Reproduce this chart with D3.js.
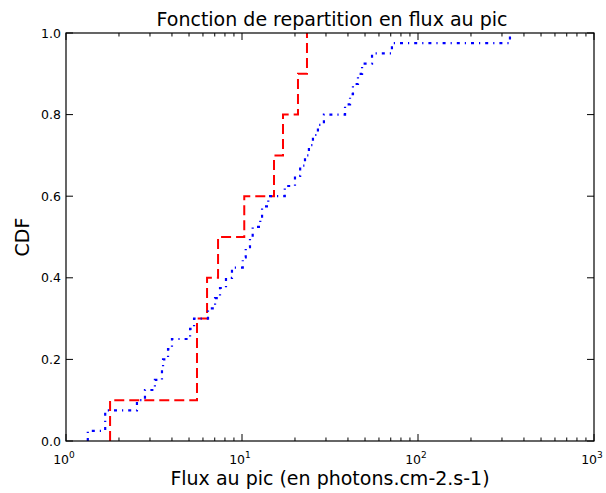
<!DOCTYPE html>
<html><head><meta charset="utf-8">
<script src="https://cdn.jsdelivr.net/npm/d3@7"></script>
<style>body{margin:0;background:#fff;} svg{display:block;font-family:"DejaVu Sans",sans-serif;}</style>
</head><body><svg id="c" width="606" height="493"></svg>
<script>
// Data (sorted peak fluxes, photons.cm-2.s-1)
const redFlux = [1.78, 5.55, 5.55, 6.33, 7.31, 10.3, 15.2, 17.1, 20.8, 23.4];
const blueFlux = [1.33, 1.67, 1.67, 2.53, 2.81, 3.20, 3.51, 3.56, 3.80, 4.00,
  5.07, 5.34, 6.41, 7.03, 7.50, 8.11, 8.77, 10.1, 10.5, 11.1,
  11.5, 12.7, 13.0, 14.1, 17.5, 20.0, 21.4, 22.8, 24.0, 25.3,
  27.0, 29.2, 38.5, 41.1, 42.7, 45.6, 48.1, 54.8, 71.1, 333];
const yTicks = [0.0, 0.2, 0.4, 0.6, 0.8, 1.0];
const xExponents = [0, 1, 2, 3];
const titleText = "Fonction de repartition en flux au pic";
const xLabelText = "Flux au pic (en photons.cm-2.s-1)";
const yLabelText = "CDF";

const L = 66, R = 594, T = 33, B = 441;
const svg = d3.select("#c");
const x = d3.scaleLog().domain([1, 1000]).range([L, R]);
const y = d3.scaleLinear().domain([0, 1]).range([B, T]);

function cdfPoints(arr) {
  const n = arr.length;
  const pts = [[arr[0], 0]];
  arr.forEach((v, i) => pts.push([v, (i + 1) / n]));
  return pts;
}
const line = d3.line().x(d => x(d[0])).y(d => y(d[1])).curve(d3.curveStepAfter);

const g = svg.append("g");
g.append("path").attr("d", line(cdfPoints(redFlux)))
  .attr("fill", "none").attr("stroke", "#ff0000").attr("stroke-width", 2)
  .attr("stroke-dasharray", "10,5");
g.append("path").attr("d", line(cdfPoints(blueFlux)))
  .attr("fill", "none").attr("stroke", "#0000ff").attr("stroke-width", 2.2)
  .attr("stroke-dasharray", "3,5,1.2,5");

// frame
svg.append("rect").attr("x", L).attr("y", T).attr("width", R - L).attr("height", B - T)
  .attr("fill", "none").attr("stroke", "#000").attr("stroke-width", 1.2);

// ticks
const majors = xExponents.map(e => Math.pow(10, e));
const minors = [];
[0, 1, 2].forEach(e => { for (let k = 2; k <= 9; k++) minors.push(k * Math.pow(10, e)); });
const tk = svg.append("g").attr("stroke", "#000").attr("stroke-width", 1);
majors.forEach(v => {
  tk.append("line").attr("x1", x(v)).attr("x2", x(v)).attr("y1", B).attr("y2", B - 7);
  tk.append("line").attr("x1", x(v)).attr("x2", x(v)).attr("y1", T).attr("y2", T + 7);
});
minors.forEach(v => {
  tk.append("line").attr("x1", x(v)).attr("x2", x(v)).attr("y1", B).attr("y2", B - 3.5);
  tk.append("line").attr("x1", x(v)).attr("x2", x(v)).attr("y1", T).attr("y2", T + 3.5);
});
yTicks.forEach(v => {
  tk.append("line").attr("x1", L).attr("x2", L + 7).attr("y1", y(v)).attr("y2", y(v));
  tk.append("line").attr("x1", R).attr("x2", R - 7).attr("y1", y(v)).attr("y2", y(v));
});

// y tick labels
svg.append("g").selectAll("text").data(yTicks).join("text")
  .attr("x", L - 5).attr("y", d => y(d) + 4.5).attr("text-anchor", "end")
  .attr("font-size", 12.5).attr("fill", "#000").text(d => d.toFixed(1));

// x tick labels
const xl = svg.append("g").selectAll("text").data(xExponents).join("text")
  .attr("x", d => x(Math.pow(10, d)) - 2).attr("y", B + 23).attr("text-anchor", "middle")
  .attr("font-size", 12.5).attr("fill", "#000");
xl.append("tspan").text("10");
xl.append("tspan").attr("font-size", 9).attr("dy", -6).text(d => d);

svg.append("text").attr("x", (L + R) / 2 + 2).attr("y", 26).attr("text-anchor", "middle")
  .attr("font-size", 19).attr("fill", "#000").text(titleText);
svg.append("text").attr("x", (L + R) / 2).attr("y", 485).attr("text-anchor", "middle")
  .attr("font-size", 19).attr("fill", "#000").text(xLabelText);
svg.append("text").attr("transform", `translate(29,${(T + B) / 2}) rotate(-90)`)
  .attr("text-anchor", "middle").attr("font-size", 19).attr("fill", "#000").text(yLabelText);
</script></body></html>
